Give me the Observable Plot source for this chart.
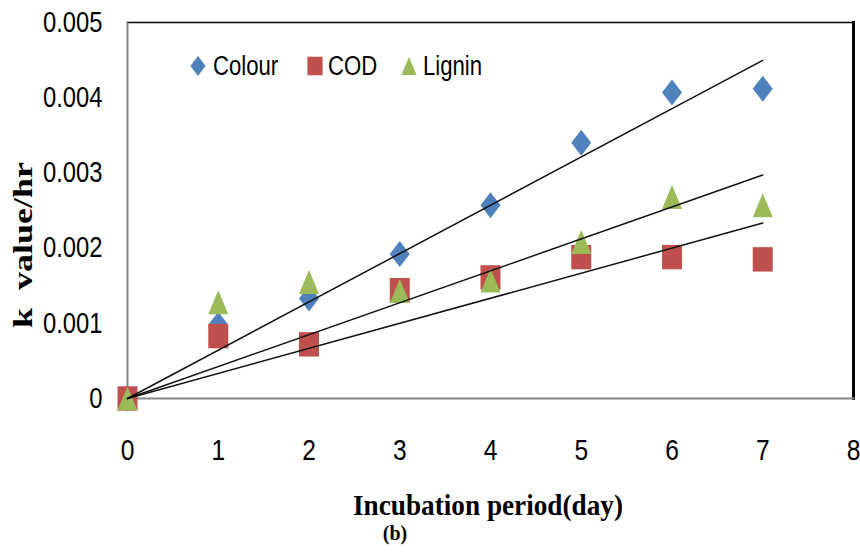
<!DOCTYPE html>
<html>
<head>
<meta charset="utf-8">
<script src="https://cdn.jsdelivr.net/npm/d3@7"></script>
<script src="https://cdn.jsdelivr.net/npm/@observablehq/plot@0.6"></script>
<style>
  html, body { margin: 0; padding: 0; background: #fff; }
  #chart svg { display: block; }
</style>
</head>
<body>
<div id="chart"></div>
<script>
// Incubation days and first-order rate constants (k, per hour)
const days = [0, 1, 2, 3, 4, 5, 6, 7];
const colourK = [0, 0.00098, 0.00133, 0.00192, 0.00257, 0.0034, 0.00407, 0.00412];
const codK = [0, 0.00083, 0.00072, 0.00144, 0.00161, 0.00188, 0.00188, 0.00185];
const ligninK = [0, 0.00128, 0.00155, 0.00143, 0.00157, 0.00208, 0.00268, 0.00257];

const seriesNames = ["Colour", "COD", "Lignin"];
const seriesColors = ["#4F81BD", "#C0504D", "#9BBB59"];
const xTicks = [0, 1, 2, 3, 4, 5, 6, 7, 8];
const yTicks = [0, 0.001, 0.002, 0.003, 0.004, 0.005];

// Marker shapes (slightly taller than wide)
const diamond = {draw(ctx, size) {
  const r = Math.sqrt(size / Math.PI);
  ctx.moveTo(0, -1.3 * r); ctx.lineTo(r, 0); ctx.lineTo(0, 1.3 * r); ctx.lineTo(-r, 0); ctx.closePath();
}};
const square = {draw(ctx, size) {
  const r = Math.sqrt(size / Math.PI);
  ctx.rect(-r, -1.22 * r, 2 * r, 2.44 * r);
}};
const triangle = {draw(ctx, size) {
  const r = Math.sqrt(size / Math.PI);
  ctx.moveTo(0, -1.2 * r); ctx.lineTo(r, 1.2 * r); ctx.lineTo(-r, 1.2 * r); ctx.closePath();
}};
const symbols = [diamond, square, triangle];

const seriesValues = [colourK, codK, ligninK];
const points = seriesValues.map((vals, i) =>
  days.map((d, j) => ({day: d, k: vals[j], series: seriesNames[i]})));

// Linear trendlines forced through the origin: slope = Σxy / Σx²
const trends = seriesValues.map((vals, i) => {
  const sxy = d3.sum(days, (d, j) => d * vals[j]);
  const sxx = d3.sum(days, d => d * d);
  const slope = sxy / sxx;
  const xMax = d3.max(days);
  return [{day: 0, k: 0}, {day: xMax, k: slope * xMax}];
});

const W = 860, H = 554;
const mL = 127, mR = 7, mT = 22, mB = 156;
const sans = "'Liberation Sans', Arial, sans-serif";
const serif = "'Liberation Serif', 'Times New Roman', serif";

const chart = Plot.plot({
  width: W,
  height: H,
  marginLeft: mL,
  marginRight: mR,
  marginTop: mT,
  marginBottom: mB,
  style: {fontFamily: sans, background: "#fff", color: "#000"},
  x: {domain: [0, 8]},
  y: {domain: [0, 0.005]},
  marks: [
    Plot.frame({anchor: "top", stroke: "#000", strokeWidth: 1.6}),
    Plot.frame({anchor: "right", stroke: "#000", strokeWidth: 3}),
    Plot.frame({anchor: "left", stroke: "#868686", strokeWidth: 2}),
    Plot.frame({anchor: "bottom", stroke: "#868686", strokeWidth: 2.2}),
    Plot.axisX({ticks: xTicks, tickSize: 0, tickPadding: 40, fontSize: 30, label: null, tickFormat: d => String(d)}),
    Plot.axisY({ticks: yTicks, tickSize: 0, tickPadding: 25, fontSize: 29, label: null,
      tickFormat: d => d === 0 ? "0" : d.toFixed(3)}),
    ...points.map((pts, i) => Plot.dot(pts, {x: "day", y: "k", r: 10, symbol: symbols[i], fill: seriesColors[i], stroke: "none"})),
    ...trends.map(t => Plot.line(t, {x: "day", y: "k", stroke: "#111", strokeWidth: 1.5}))
  ]
});

document.getElementById("chart").appendChild(chart);

const svg = d3.select(chart);

// Condense a text element horizontally (narrow-face look)
function condense(node, factor) {
  const len = node.getComputedTextLength();
  if (len > 0) {
    node.setAttribute("textLength", (len * factor).toFixed(2));
    node.setAttribute("lengthAdjust", "spacingAndGlyphs");
  }
}
// At this point the only texts are the tick labels of both axes
svg.selectAll("text").each(function() { condense(this, 0.82); });

// Legend inside the plot area
const legend = svg.append("g").attr("class", "legend").attr("text-anchor", "start");
const legendItems = [
  {sym: diamond, cx: 198, tx: 213},
  {sym: square, cx: 315, tx: 328},
  {sym: triangle, cx: 409, tx: 423}
];
legendItems.forEach((it, i) => {
  legend.append("path")
    .attr("d", d3.symbol(it.sym, Math.PI * 7.6 * 7.6)())
    .attr("transform", `translate(${it.cx},66)`)
    .attr("fill", seriesColors[i]);
  const t = legend.append("text")
    .attr("x", it.tx).attr("y", 75)
    .attr("text-anchor", "start")
    .attr("font-family", sans).attr("font-size", 27)
    .attr("fill", "#000")
    .text(seriesNames[i]);
  condense(t.node(), 0.82);
});

// Axis titles and panel label
svg.append("text")
  .attr("x", 353).attr("y", 515)
  .attr("text-anchor", "start")
  .attr("font-family", serif).attr("font-weight", "bold").attr("font-size", 30)
  .attr("textLength", 270).attr("lengthAdjust", "spacingAndGlyphs")
  .text("Incubation period(day)");

svg.append("text")
  .attr("x", 395).attr("y", 540)
  .attr("text-anchor", "middle")
  .attr("font-family", serif).attr("font-weight", "bold").attr("font-size", 20)
  .text("(b)");

svg.append("text")
  .attr("transform", "translate(32,328) rotate(-90)")
  .attr("text-anchor", "start")
  .attr("font-family", serif).attr("font-weight", "bold").attr("font-size", 27)
  .attr("textLength", 166).attr("lengthAdjust", "spacingAndGlyphs")
  .attr("xml:space", "preserve")
  .text("k  value/hr");
</script>
</body>
</html>
